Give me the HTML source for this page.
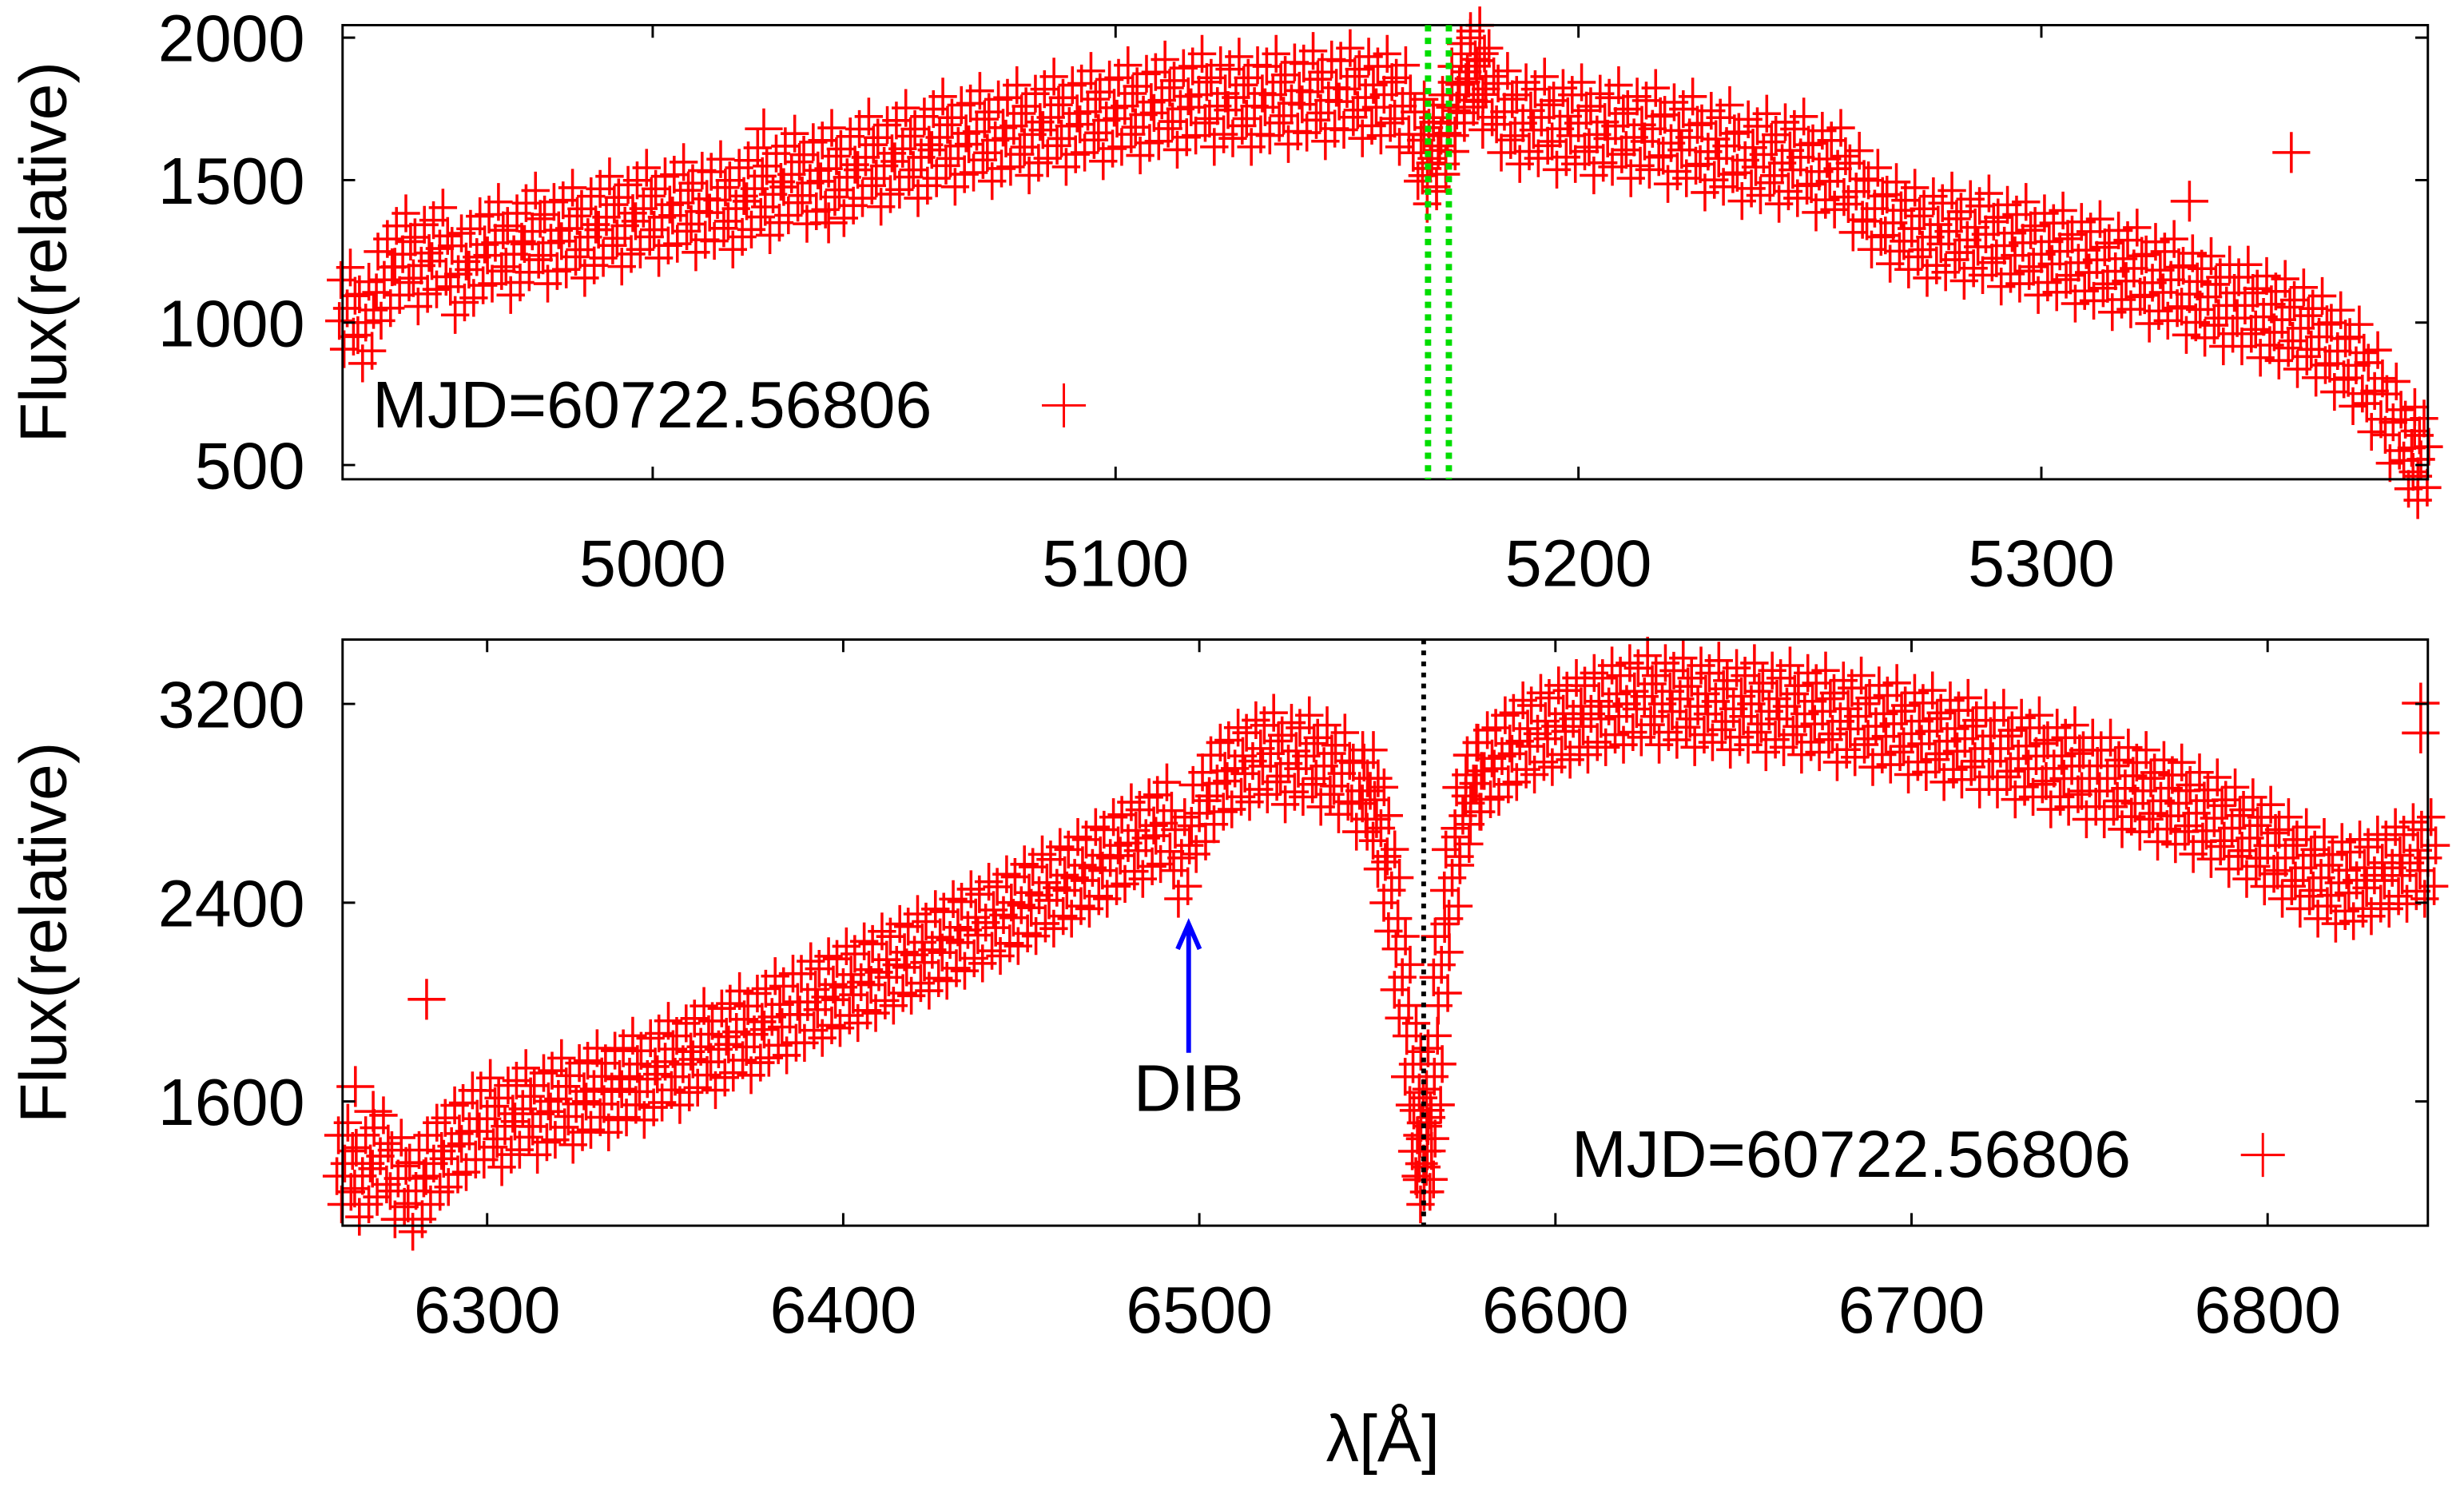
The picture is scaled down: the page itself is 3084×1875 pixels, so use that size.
<!DOCTYPE html>
<html><head><meta charset="utf-8"><style>
html,body{margin:0;padding:0;background:#fff;}
svg{display:block;}
text{font-family:"Liberation Sans",sans-serif;fill:#000;}
</style></head><body>
<svg id="chart" width="3084" height="1875" viewBox="0 0 1568 953.3" preserveAspectRatio="none" xmlns="http://www.w3.org/2000/svg">
<rect width="1568" height="953.3" fill="#fff"/>
</svg>
<script>
// ---- Top panel data ----
const topWave=[4934,4938,4942,4946,4950,4954,4958,4962,4966,4970,4974,4978,4982,4986,4990,4994,4998,5002,5006,5010,5014,5018,5022,5026,5030,5034,5038,5042,5046,5050,5054,5058,5062,5066,5070,5074,5078,5082,5086,5090,5094,5098,5102,5106,5110,5114,5118,5122,5126,5130,5134,5138,5142,5146,5150,5154,5158,5162,5166,5168,5170,5172,5174,5176,5178,5180,5184,5188,5192,5196,5200,5204,5208,5212,5216,5220,5224,5228,5232,5236,5240,5244,5248,5252,5256,5260,5264,5268,5272,5276,5280,5284,5288,5292,5296,5300,5304,5308,5312,5316,5320,5324,5328,5332,5336,5340,5344,5348,5352,5356,5360,5364,5368,5372,5376,5380,5382];
const topFlux=[1050,1000,1150,1240,1200,1260,1170,1230,1280,1240,1320,1280,1330,1300,1370,1340,1400,1370,1420,1390,1430,1400,1470,1450,1520,1490,1540,1510,1580,1550,1610,1580,1650,1620,1670,1640,1690,1660,1720,1690,1740,1710,1760,1730,1780,1750,1800,1760,1790,1760,1800,1770,1810,1780,1820,1790,1800,1760,1640,1560,1620,1700,1800,1880,1900,1820,1740,1700,1720,1680,1700,1660,1690,1650,1680,1630,1650,1600,1620,1570,1590,1560,1580,1530,1540,1460,1400,1350,1330,1300,1320,1290,1310,1270,1280,1240,1250,1210,1220,1180,1190,1140,1150,1100,1090,1060,1060,1020,1010,980,950,900,850,760,650,560,520];
const topOutWave=[5332,5354,5038,5024];
const topOutFlux=[1426,1597,1350,1680];
const topXTicks=[5000,5100,5200,5300];
const topYTicks=[500,1000,1500,2000];
// ---- Bottom panel data ----
const botWave=[6260,6265,6270,6275,6280,6285,6290,6295,6300,6305,6310,6315,6320,6325,6330,6335,6340,6345,6350,6355,6360,6365,6370,6375,6380,6385,6390,6395,6400,6405,6410,6415,6420,6425,6430,6435,6440,6445,6450,6455,6460,6465,6470,6475,6480,6485,6490,6495,6500,6505,6510,6515,6520,6525,6530,6535,6540,6545,6548,6551,6554,6557,6560,6562,6563,6564,6566,6568,6571,6574,6577,6580,6585,6590,6595,6600,6605,6610,6615,6620,6625,6630,6635,6640,6645,6650,6655,6660,6665,6670,6675,6680,6685,6690,6695,6700,6705,6710,6715,6720,6725,6730,6735,6740,6745,6750,6755,6760,6765,6770,6775,6780,6785,6790,6795,6800,6805,6810,6815,6820,6825,6830,6835,6840,6845];
const botFlux=[1350,1300,1380,1290,1240,1350,1420,1480,1530,1500,1570,1550,1610,1590,1650,1640,1700,1690,1760,1750,1820,1810,1880,1870,1940,1950,2000,2020,2060,2080,2120,2150,2190,2210,2250,2290,2320,2350,2390,2430,2460,2500,2540,2580,2640,2660,2720,2580,2760,2880,2940,2970,3000,2960,2990,2950,2920,2850,2850,2700,2450,2100,1750,1450,1350,1400,1700,2150,2500,2750,2880,2930,2990,3050,3080,3110,3140,3160,3190,3200,3230,3200,3220,3190,3210,3180,3200,3170,3190,3160,3170,3130,3150,3110,3120,3080,3090,3050,3060,3020,3020,2980,2990,2940,2950,2900,2900,2860,2850,2810,2800,2760,2740,2700,2660,2630,2580,2540,2500,2480,2490,2510,2540,2560,2580];
const botOutWave=[6283,6843,6843,6263,6268];
const botOutFlux=[2011,3203,3083,1660,1560];
const botXTicks=[6300,6400,6500,6600,6700,6800];
const botYTicks=[1600,2400,3200];

const NS="http://www.w3.org/2000/svg";
const svg=document.getElementById('chart');
function el(tag,attrs,parent){const e=document.createElementNS(NS,tag);for(const k in attrs)e.setAttribute(k,attrs[k]);(parent||svg).appendChild(e);return e;}
const FS=42;
const offs=[[0,0],[-4,-18],[4,18],[5,-8],[-5,8],[2,-26],[-2,26]];

function panel(p){
  const g=el('g',{});
  
  
  const sx=v=>p.x0+(v-p.xmin)/(p.xmax-p.xmin)*(p.x1-p.x0);
  const sy=v=>p.y1-(v-p.ymin)/(p.ymax-p.ymin)*(p.y1-p.y0);
  const pg=el('g',{stroke:'#ff0000','stroke-width':1.8},g);
  
  
  let d='';
  p.wave.forEach((w,i)=>{
    const x=sx(w),y=sy(p.flux[i]);
    offs.forEach(o=>{d+=`M${x+o[0]-9},${y+o[1]}h18M${x+o[0]},${y+o[1]-12}v24`;});
  });
  p.outWave.forEach((w,i)=>{
    const x=sx(w),y=sy(p.outFlux[i]);
    d+=`M${x-12},${y}h24M${x},${y-13}v26`;
  });
  const path=el('path',{d:d,fill:'none'},pg);
  
  
  const fr=el('rect',{x:p.x0,y:p.y0,width:p.x1-p.x0,height:p.y1-p.y0,fill:'none',stroke:'#000','stroke-width':1.5},g);
  
  
  p.xticks.forEach(t=>{
    const x=sx(t);
    el('path',{d:`M${x},${p.y1}v-8M${x},${p.y0}v8`,stroke:'#000','stroke-width':1.5},g);
    const tx=el('text',{x:x,y:p.y1+p.xlabOff,'text-anchor':'middle','font-size':FS},g);
    tx.textContent=t;
    
    
  });
  p.yticks.forEach(t=>{
    const y=sy(t);
    el('path',{d:`M${p.x0},${y}h8M${p.x1},${y}h-8`,stroke:'#000','stroke-width':1.5},g);
    const tx=el('text',{x:p.x0-24,y:y+15,'text-anchor':'end','font-size':FS},g);
    tx.textContent=t;
    
    
  });
  const yl=el('text',{x:0,y:0,'text-anchor':'middle','font-size':FS,transform:`translate(42,${(p.y0+p.y1)/2}) rotate(-90)`},g);
  yl.textContent='Flux(relative)';
  
  
  const lt=el('text',{x:p.legX,y:p.legY,'font-size':FS},g);
  lt.textContent='MJD=60722.56806';
  
  
  const lm=el('path',{d:`M${p.legMX-14},${p.legY-14}h28M${p.legMX},${p.legY-28}v28`,stroke:'#ff0000','stroke-width':1.5},g);
  
  
  return {sx,sy,g};
}

const topP=panel({name:'top-panel',x0:218,x1:1545,y0:16,y1:305,xmin:4933,xmax:5383.5,ymin:450,ymax:2044,
  wave:topWave,flux:topFlux,outWave:topOutWave,outFlux:topOutFlux,xticks:topXTicks,yticks:topYTicks,xlabOff:68,legX:237,legY:272,legMX:677});
[5167.5,5172].forEach(w=>{
  const l=el('line',{x1:topP.sx(w),x2:topP.sx(w),y1:16,y2:305,stroke:'#00dd00','stroke-width':4,'stroke-dasharray':'4,4'});
  
  
});

const botP=panel({name:'bottom-panel',x0:218,x1:1545,y0:407,y1:780,xmin:6259.4,xmax:6845,ymin:1100,ymax:3459,
  wave:botWave,flux:botFlux,outWave:botOutWave,outFlux:botOutFlux,xticks:botXTicks,yticks:botYTicks,xlabOff:68,legX:1000,legY:749,legMX:1440});
const ha=el('line',{x1:botP.sx(6563),x2:botP.sx(6563),y1:407,y2:780,stroke:'#000','stroke-width':3,'stroke-dasharray':'3,4'});


const ax=botP.sx(6497);
const arr=el('path',{d:`M${ax},670V590M${ax-7},604L${ax},588L${ax+7},604`,stroke:'#0000ff','stroke-width':3,fill:'none'});


const dib=el('text',{x:ax,y:707,'text-anchor':'middle','font-size':FS});
dib.textContent='DIB';


const xl=el('text',{x:880,y:930,'text-anchor':'middle','font-size':FS});
xl.textContent='λ[Å]';


</script>
</body></html>
